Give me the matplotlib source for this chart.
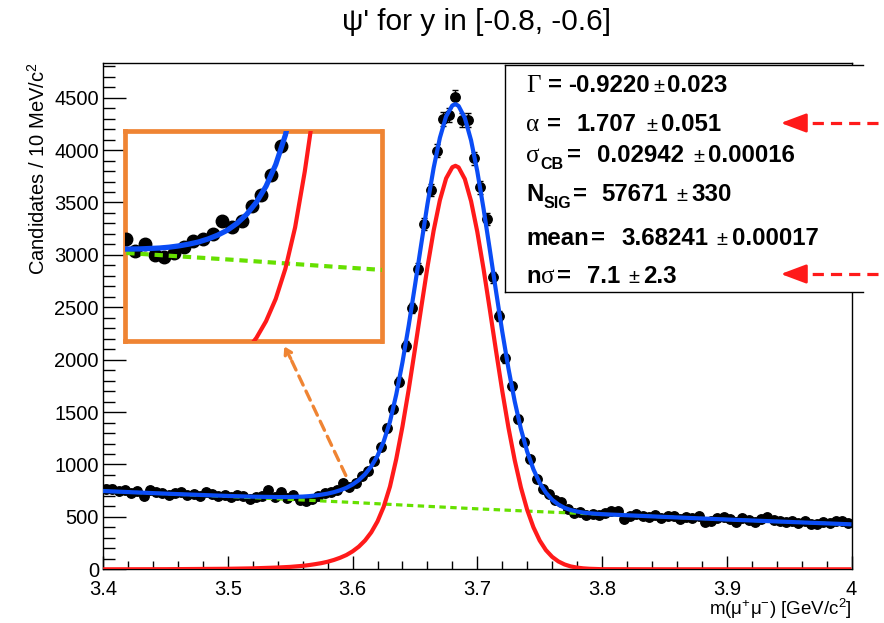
import numpy as np
import matplotlib
matplotlib.use("Agg")
import matplotlib.pyplot as plt
from matplotlib.patches import Rectangle, FancyArrowPatch
from matplotlib.lines import Line2D

plt.rcParams['font.family'] = ['Liberation Sans', 'DejaVu Sans']
plt.rcParams['mathtext.fontset'] = 'custom'
plt.rcParams['mathtext.rm'] = 'Liberation Sans'
plt.rcParams['mathtext.it'] = 'Liberation Sans:italic'
plt.rcParams['mathtext.bf'] = 'Liberation Sans:bold'
plt.rcParams['mathtext.default'] = 'regular'

# ---------------- data ----------------
title = "ψ' for y in [-0.8, -0.6]"
x_label = r"m($\mu^{+}\mu^{-}$) [GeV/c$^{2}$]"
y_label = r"Candidates / 10 MeV/c$^{2}$"

bin_low, bin_width, n_bins = 3.40, 0.005, 120
counts = [
    762, 770, 745, 752, 728, 748, 700, 758, 735, 728,
    712, 730, 738, 705, 720, 700, 742, 718, 695, 708,
    690, 712, 700, 668, 690, 702, 752, 690, 735, 680,
    712, 662, 650, 672, 700, 725, 735, 760, 820, 790,
    822, 890, 940, 1036, 1170, 1350, 1527, 1790, 2130, 2495,
    2870, 3295, 3620, 3994, 4300, 4335, 4510, 4290, 4290, 3920,
    3645, 3340, 2786, 2417, 2013, 1749, 1431, 1218, 1050, 860,
    763, 720, 660, 640, 580, 540, 548, 520, 528, 515,
    535, 552, 560, 482, 505, 525, 512, 495, 520, 488,
    505, 512, 478, 500, 490, 505, 455, 460, 485, 500,
    478, 455, 488, 470, 452, 478, 498, 470, 462, 448,
    465, 440, 458, 430, 436, 450, 445, 458, 462, 440,
]

curve_x = [3.40, 3.45, 3.50, 3.52, 3.54, 3.55, 3.555, 3.56, 3.565, 3.57, 3.575,
           3.58, 3.585, 3.59, 3.595, 3.60, 3.605, 3.61, 3.615, 3.62, 3.625,
           3.63, 3.635, 3.64, 3.645, 3.65, 3.655, 3.66, 3.665, 3.67, 3.675,
           3.68, 3.6825, 3.685, 3.69, 3.695, 3.70, 3.705, 3.71, 3.715, 3.72,
           3.725, 3.73, 3.735, 3.74, 3.745, 3.75, 3.755, 3.76, 3.765, 3.77,
           3.775, 3.78, 3.785, 3.79, 3.795, 3.80, 3.85, 3.90, 3.95, 4.00]
signal_y = [0, 1, 5, 9, 17, 23, 28, 33, 40, 49, 59,
            72, 89, 110, 136, 171, 216, 275, 353, 457, 598,
            790, 1051, 1362, 1715, 2099, 2494, 2881, 3232, 3522, 3730,
            3837, 3850, 3835, 3724, 3513, 3220, 2867, 2481, 2085, 1702,
            1350, 1041, 779, 567, 401, 275, 183, 119, 75, 46,
            27, 16, 9, 5, 3, 1, 0, 0, 0, 0]
total_y = [747, 722, 700, 693, 689, 690, 692, 694, 698, 704, 712,
           722, 736, 754, 777, 809, 851, 907, 982, 1083, 1221,
           1409, 1667, 1975, 2325, 2706, 3098, 3482, 3830, 4117, 4322,
           4426, 4438, 4421, 4307, 4093, 3797, 3441, 3053, 2654, 2268,
           1914, 1602, 1337, 1122, 954, 825, 731, 664, 618, 586,
           565, 551, 541, 535, 530, 526, 500, 475, 452, 429]
bkg_x = [3.40, 3.45, 3.50, 3.55, 3.60, 3.65, 3.70, 3.75, 3.80, 3.85, 3.90, 3.95, 4.00]
bkg_y = [747, 721, 695, 667, 638, 607, 577, 550, 525, 500, 475, 452, 429]

x_ticks = [3.4, 3.5, 3.6, 3.7, 3.8, 3.9, 4.0]
x_tick_labels = ["3.4", "3.5", "3.6", "3.7", "3.8", "3.9", "4"]
y_ticks = [0, 500, 1000, 1500, 2000, 2500, 3000, 3500, 4000, 4500]
y_tick_labels = [str(v) for v in y_ticks]

# ---------------- style ----------------
W, H = 884, 623
BLUE = "#0a4cf5"
RED = "#ff1a1a"
GREEN = "#66e000"
ORANGE = "#ef8433"


def fx(px):
    return px / W


def fy(py):
    return 1 - py / H


fig = plt.figure(figsize=(W / 100, H / 100), dpi=100)
fig.patch.set_facecolor("white")

ax_l, ax_r, ax_t, ax_b = 103.1, 851.5, 63.0, 569.3
ax = fig.add_axes([fx(ax_l), fy(ax_b), (ax_r - ax_l) / W, (ax_b - ax_t) / H])

centers = bin_low + bin_width * (np.arange(n_bins) + 0.5)
err = np.sqrt(np.array(counts, dtype=float))


def draw_content(a, ms, lw_tot, lw_sig, lw_bkg, with_err=True):
    if with_err:
        a.errorbar(centers, counts, yerr=err, fmt='o', color='black', ms=ms,
                   elinewidth=1, capsize=2, capthick=1, zorder=3)
    else:
        a.plot(centers, counts, 'o', color='black', ms=ms, zorder=3)
    a.plot(bkg_x, bkg_y, color=GREEN, lw=lw_bkg, ls=(0, (2.0, 1.4)), zorder=4)
    a.plot(curve_x, signal_y, color=RED, lw=lw_sig, zorder=5, solid_capstyle='butt')
    a.plot(curve_x, total_y, color=BLUE, lw=lw_tot, zorder=6, solid_capstyle='butt')


draw_content(ax, 6.8, 3.0, 3.0, 2.3)
ax.set_xlim(3.4, 4.0)
ax.set_ylim(0, 4831)
ax.set_xticks(x_ticks)
ax.set_xticklabels(x_tick_labels)
ax.set_yticks(y_ticks)
ax.set_yticklabels(y_tick_labels)
ax.set_xticks(np.arange(3.42, 4.0, 0.02), minor=True)
ax.set_yticks(np.arange(100, 4831, 100), minor=True)
ax.tick_params(axis='both', which='both', direction='in', width=1, labelsize=14.5,
               top=False, right=False)
ax.tick_params(axis='x', which='major', length=9.6, pad=7.5)
ax.tick_params(axis='x', which='minor', length=5.5)
ax.tick_params(axis='y', which='major', length=16.3, pad=3)
ax.tick_params(axis='y', which='minor', length=8.4)
for s in ax.spines.values():
    s.set_linewidth(1)

fig.text(fx(ax_r), fy(615), x_label, ha='right', va='baseline', fontsize=13.5)
fig.text(fx(38), fy(62), y_label, ha='center', va='top', rotation=90, fontsize=14.5)
fig.text(fx(477), fy(22), title, ha='center', va='center', fontsize=21.5)

# ---------------- inset (zoom) ----------------
in_l, in_r, in_t, in_b = 125.0, 381.5, 130.5, 340.5
axi = fig.add_axes([fx(in_l), fy(in_b), (in_r - in_l) / W, (in_b - in_t) / H])
axi.set_zorder(5)
draw_content(axi, 9, 3.8, 3.0, 3.0, with_err=False)
axi.set_xlim(3.5422, 3.6746)
axi.set_ylim(263, 1242)
axi.set_xticks([])
axi.set_yticks([])
for s in axi.spines.values():
    s.set_color(ORANGE)
    s.set_linewidth(3.4)

# orange arrow from data point to inset
fig.add_artist(FancyArrowPatch((fx(347), fy(478)), (fx(288), fy(353)),
                               transform=fig.transFigure, arrowstyle='-',
                               color=ORANGE, lw=2.4, linestyle=(0, (3, 2)),
                               zorder=20))
fig.add_artist(FancyArrowPatch((fx(292), fy(361)), (fx(283), fy(344)),
                               transform=fig.transFigure, arrowstyle='->,head_length=4,head_width=2.5',
                               color=ORANGE, lw=2.4, zorder=20))

# ---------------- stats box ----------------
bx_l, bx_r, bx_t, bx_b = 504.5, 863.0, 65.0, 292.0
fig.add_artist(Rectangle((fx(bx_l), fy(bx_b)), (W - bx_l) / W, (bx_b - bx_t) / H,
                         transform=fig.transFigure, facecolor='white',
                         edgecolor='none', zorder=30))
for (xa, ya, xb, yb) in [(bx_l, bx_t, bx_r, bx_t), (bx_l, bx_b, bx_r, bx_b),
                         (bx_l, bx_t, bx_l, bx_b)]:
    fig.add_artist(Line2D([fx(xa), fx(xb)], [fy(ya), fy(yb)], transform=fig.transFigure,
                          color='black', lw=1.0, zorder=31))

BOLD = dict(fontsize=17.3, fontweight='bold', family=['Liberation Sans', 'DejaVu Sans'])
SUB = dict(fontsize=11.5, fontweight='bold', family=['Liberation Sans', 'DejaVu Sans'])
GREEK = dict(fontsize=18, fontweight='normal', family=['Liberation Serif', 'DejaVu Serif'])
PM = dict(fontsize=14.5, fontweight='normal', family=['Liberation Sans', 'DejaVu Sans'])

stat_lines = [
    (92, [("Γ", GREEK, 526, 0), ("=", BOLD, 548, 0), ("-0.9220", BOLD, 568, 0),
          ("±", PM, 653, 0), ("0.023", BOLD, 667, 0)]),
    (131, [("α", GREEK, 526, 0), ("=", BOLD, 546.7, 0), ("1.707", BOLD, 576.7, 0),
           ("±", PM, 646.7, 0), ("0.051", BOLD, 661, 0)]),
    (162, [("σ", GREEK, 526, 0), ("CB", SUB, 540.5, 7), ("=", BOLD, 567, 0),
           ("0.02942", BOLD, 596.7, 0), ("±", PM, 693, 0), ("0.00016", BOLD, 708, 0)]),
    (201, [("N", BOLD, 526, 0), ("SIG", SUB, 543.5, 7), ("=", BOLD, 573, 0),
           ("57671", BOLD, 601.7, 0), ("±", PM, 676.7, 0), ("330", BOLD, 691, 0)]),
    (245, [("mean", BOLD, 526, 0), ("=", BOLD, 591, 0), ("3.68241", BOLD, 621.7, 0),
           ("±", PM, 716.7, 0), ("0.00017", BOLD, 731.7, 0)]),
    (283, [("n", BOLD, 526, 0), ("σ", GREEK, 541.5, 0), ("=", BOLD, 557, 0),
           ("7.1", BOLD, 586.7, 0), ("±", PM, 628.3, 0), ("2.3", BOLD, 643.3, 0)]),
]
for base, pieces in stat_lines:
    for s, props, px, dy in pieces:
        fig.text(fx(px), fy(base + dy), s, ha='left', va='baseline', zorder=32, **props)

# ---------------- red arrows ----------------
for yy in (123, 274):
    fig.add_artist(Line2D([fx(794), fx(884)], [fy(yy), fy(yy)], transform=fig.transFigure,
                          color=RED, lw=2.3, linestyle=(0, (3.5, 2.2)), zorder=40))
    fig.add_artist(FancyArrowPatch((fx(798), fy(yy)), (fx(778), fy(yy)),
                                   transform=fig.transFigure,
                                   arrowstyle='-|>,head_length=1.2,head_width=0.45',
                                   mutation_scale=13, color=RED, lw=2.0, zorder=41))

fig.savefig("out.png", dpi=100, facecolor='white')
